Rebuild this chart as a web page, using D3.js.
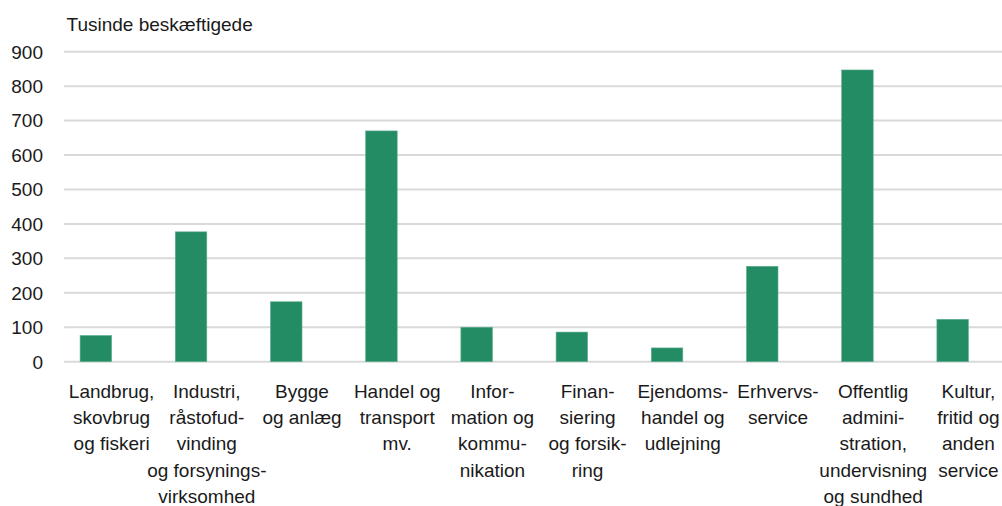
<!DOCTYPE html>
<html>
<head>
<meta charset="utf-8">
<script src="https://cdn.jsdelivr.net/npm/d3@7"></script>
<style>
  body { margin: 0; background: #fff; }
  svg text { font-family: "Liberation Sans", Arial, sans-serif; font-size: 19px; fill: #1a1a1a; }
</style>
</head>
<body>
<div id="chart"></div>
<script>
// data
const categories = ["Landbrug", "Industri", "Bygge", "Handel", "Information",
  "Finansiering", "Ejendomshandel", "Erhvervsservice", "Offentlig", "Kultur"];
const labelLines = [
  ["Landbrug,", "skovbrug", "og fiskeri"],
  ["Industri,", "råstofud-", "vinding", "og forsynings-", "virksomhed"],
  ["Bygge", "og anlæg"],
  ["Handel og", "transport", "mv."],
  ["Infor-", "mation og", "kommu-", "nikation"],
  ["Finan-", "siering", "og forsik-", "ring"],
  ["Ejendoms-", "handel og", "udlejning"],
  ["Erhvervs-", "service"],
  ["Offentlig", "admini-", "stration,", "undervisning", "og sundhed"],
  ["Kultur,", "fritid og", "anden", "service"]
];
const employed = [76, 377, 174, 670, 100, 86, 40, 277, 847, 123];
const yTicks = [0, 100, 200, 300, 400, 500, 600, 700, 800, 900];
const yTitle = "Tusinde beskæftigede";

const width = 1002, height = 506;
const left = 64, baseY = 361.7, topY = 51.7;

const svg = d3.select("#chart").append("svg")
  .attr("width", width)
  .attr("height", height);

const x = d3.scaleBand().domain(categories).range([left, left + 95.2 * categories.length]);
const y = d3.scaleLinear().domain([0, 900]).range([baseY, topY]);

// gridlines + tick labels
svg.append("g").selectAll("line")
  .data(yTicks)
  .enter().append("line")
  .attr("x1", left).attr("x2", width)
  .attr("y1", d => y(d)).attr("y2", d => y(d))
  .attr("stroke", "#d9d9d9")
  .attr("stroke-width", 2);

svg.append("g").selectAll("text")
  .data(yTicks)
  .enter().append("text")
  .attr("x", 43)
  .attr("y", d => y(d))
  .attr("dy", "0.36em")
  .attr("text-anchor", "end")
  .text(d => d);

svg.append("text")
  .attr("x", 66.5)
  .attr("y", 31)
  .text(yTitle);

// bars sit in the left half of a two-slot cluster (second slot empty)
const barW = x.bandwidth() * 0.331;
svg.append("g").selectAll("rect")
  .data(employed)
  .enter().append("rect")
  .attr("x", (d, i) => x(categories[i]) + x.bandwidth() / 2 - barW)
  .attr("y", d => y(d))
  .attr("width", barW)
  .attr("height", d => y(0) - y(d))
  .attr("fill", "#248c64")
  .attr("stroke", "#5daf8c")
  .attr("stroke-width", 0.6);

// category labels
const lab = svg.append("g").selectAll("text")
  .data(labelLines)
  .enter().append("text")
  .attr("text-anchor", "middle")
  .attr("transform", (d, i) => `translate(${x(categories[i]) + x.bandwidth() / 2},397.5)`);

lab.selectAll("tspan")
  .data(d => d)
  .enter().append("tspan")
  .attr("x", 0)
  .attr("y", (d, j) => j * 26.4)
  .text(d => d);
</script>
</body>
</html>
